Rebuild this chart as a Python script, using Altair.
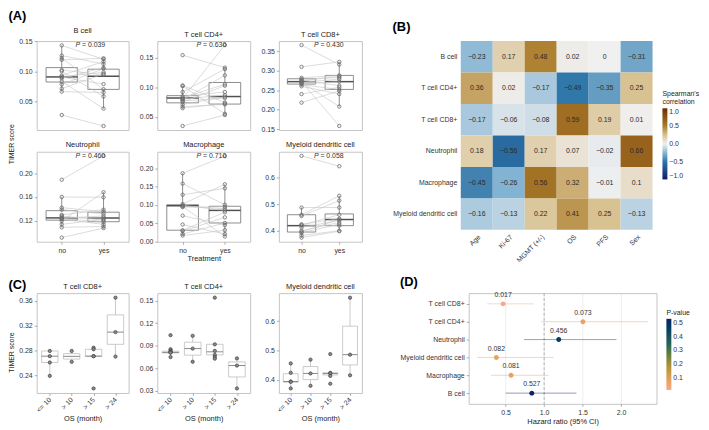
import altair as alt
import pandas as pd

FONT = "Liberation Sans"
TXT = "#333333"
FRAME = "#c4c4c4"

# ---------------- Panel A: paired TIMER scores (treatment no / yes) ----------------
a_cells = ["B cell", "T cell CD4+", "T cell CD8+", "Neutrophil", "Macrophage", "Myeloid dendritic cell"]
a_pvals = ["0.039", "0.630", "0.430", "0.460", "0.710", "0.058"]

bcell_no = [0.143, 0.126, 0.122, 0.119, 0.102, 0.100, 0.093, 0.091, 0.090, 0.088, 0.083, 0.078, 0.071, 0.066, 0.027]
bcell_yes = [0.120, 0.112, 0.070, 0.1216, 0.094, 0.058, 0.116, 0.098, 0.0786, 0.106, 0.0377, 0.104, 0.0955, 0.0646, 0.0087]
cd4_no = [0.154, 0.103, 0.102, 0.092, 0.0848, 0.082, 0.0805, 0.080, 0.079, 0.077, 0.075, 0.071, 0.0674, 0.0647, 0.0347]
cd4_yes = [0.133, 0.0742, 0.0552, 0.1306, 0.092, 0.105, 0.171, 0.0868, 0.120, 0.0816, 0.1026, 0.084, 0.071, 0.0725, 0.0532]
cd8_no = [0.366, 0.310, 0.2818, 0.2785, 0.276, 0.274, 0.272, 0.270, 0.2698, 0.2665, 0.264, 0.260, 0.240, 0.218]
cd8_yes = [0.316, 0.3228, 0.288, 0.2825, 0.2616, 0.2857, 0.158, 0.2785, 0.208, 0.272, 0.252, 0.240, 0.2577, 0.248]
neu_no = [0.189, 0.160, 0.142, 0.1386, 0.130, 0.128, 0.1258, 0.1245, 0.1237, 0.1225, 0.1194, 0.114, 0.109, 0.0917]
neu_yes = [0.229, 0.1594, 0.1354, 0.1317, 0.1386, 0.121, 0.1248, 0.128, 0.118, 0.114, 0.168, 0.1225, 0.1104, 0.1077]
mac_no = [0.187, 0.1585, 0.128, 0.1023, 0.099, 0.097, 0.096, 0.0938, 0.0705, 0.0461, 0.0306, 0.028, 0.0202, 0.016]
mac_yes = [0.234, 0.1005, 0.1456, 0.1567, 0.085, 0.0894, 0.0135, 0.095, 0.0446, 0.020, 0.080, 0.066, 0.0505, 0.0306]
mdc_no = [0.681, 0.487, 0.46, 0.455, 0.424, 0.421, 0.419, 0.412, 0.40, 0.395, 0.392, 0.382, 0.374]
mdc_yes = [0.642, 0.487, 0.531, 0.513, 0.445, 0.46, 0.419, 0.439, 0.431, 0.442, 0.425, 0.40, 0.398]

# box statistics [lower whisker, q1, median, q3, upper whisker] for no / yes
bcell_box = [[0.066, 0.082, 0.0905, 0.106, 0.143], [0.0377, 0.0697, 0.0915, 0.1034, 0.1216]]
cd4_box = [[0.0647, 0.0737, 0.082, 0.0858, 0.103], [0.0532, 0.0716, 0.0843, 0.108, 0.133]]
cd8_box = [[0.260, 0.2657, 0.272, 0.2794, 0.2818], [0.208, 0.252, 0.272, 0.288, 0.3228]]
neu_box = [[0.109, 0.121, 0.1248, 0.137, 0.160], [0.1077, 0.1184, 0.1248, 0.1344, 0.168]]
mac_box = [[0.016, 0.0306, 0.098, 0.1005, 0.187], [0.0135, 0.0505, 0.085, 0.0964, 0.1567]]
mdc_box = [[0.374, 0.395, 0.419, 0.46, 0.487], [0.398, 0.419, 0.442, 0.463, 0.531]]

a_groups = ["no", "yes"]

# ---------------- Panel B: Spearman correlation heatmap ----------------
b_rows = ["B cell", "T cell CD4+", "T cell CD8+", "Neutrophil", "Macrophage", "Myeloid dendritic cell"]
b_cols = ["Age", "Ki-67", "MGMT (+/-)", "OS", "PFS", "Sex"]
b_bcell = [-0.23, 0.17, 0.48, 0.02, 0, -0.31]
b_cd4 = [0.36, 0.02, -0.17, -0.49, -0.35, 0.25]
b_cd8 = [-0.17, -0.06, -0.08, 0.59, 0.19, 0.01]
b_neu = [0.18, -0.56, 0.17, 0.07, -0.02, 0.66]
b_mac = [-0.45, -0.26, 0.56, 0.32, -0.01, 0.1]
b_mdc = [-0.16, -0.13, 0.22, 0.41, 0.25, -0.13]

# ---------------- Panel C: TIMER score by OS group ----------------
c_groups = ["<= 10", "> 10", "> 15", "> 24"]
c_cd8_pts = [[0.279, 0.2706, 0.2604, 0.2388], [0.279, 0.2615], [0.2842, 0.2817, 0.2706, 0.2706, 0.2185], [0.365, 0.3094, 0.270]]
c_cd8_box = [[0.2388, 0.2604, 0.2706, 0.2790, 0.2797], [0.2615, 0.2659, 0.2703, 0.2747, 0.279],
             [0.2706, 0.2706, 0.2706, 0.2817, 0.2842], [0.270, 0.2897, 0.3094, 0.3372, 0.365]]
c_cd4_pts = [[0.1041, 0.0854, 0.0833, 0.082, 0.0812, 0.081, 0.075], [0.1033, 0.0863, 0.0688],
             [0.154, 0.092, 0.0833, 0.0779, 0.075, 0.0729], [0.0733, 0.0638, 0.0333]]
c_cd4_box = [[0.075, 0.0806, 0.0812, 0.0828, 0.0854], [0.0688, 0.0776, 0.0863, 0.0948, 0.1033],
             [0.0729, 0.0779, 0.082, 0.092, 0.092], [0.0333, 0.0486, 0.0638, 0.0686, 0.0733]]
c_mdc_pts = [[0.4562, 0.4243, 0.3946, 0.3935, 0.371], [0.469, 0.422, 0.380],
             [0.488, 0.424, 0.422, 0.4137, 0.387], [0.680, 0.486, 0.4157]]
c_mdc_box = [[0.371, 0.3923, 0.3946, 0.421, 0.4562], [0.380, 0.401, 0.422, 0.4455, 0.469],
             [0.4137, 0.417, 0.422, 0.424, 0.424], [0.4157, 0.451, 0.486, 0.583, 0.680]]

# ---------------- Panel D: hazard ratios ----------------
d_cells = ["T cell CD8+", "T cell CD4+", "Neutrophil", "Myeloid dendritic cell", "Macrophage", "B cell"]
d_hr = [0.467, 1.504, 1.19, 0.38, 0.57, 0.84]
d_lo = [0.26, 0.96, 0.74, 0.13, 0.31, 0.50]
d_hi = [0.87, 2.35, 1.94, 1.12, 1.06, 1.42]
d_p = [0.017, 0.073, 0.456, 0.082, 0.081, 0.527]

YEXT = 20  # fixed y-axis extent (ticks + labels) of the small multiples


def sub_title(t):
    return alt.TitleParams(t, font=FONT, fontSize=7.5, fontWeight="normal", color="#222", offset=3)


def tag_title(t, **kw):
    return alt.TitleParams(t, font=FONT, fontSize=13, fontWeight="bold", color="#000",
                           anchor="start", frame="bounds", **kw)


def left_title(t):
    return alt.TitleParams(t, font=FONT, fontSize=7, fontWeight="normal", color="#222",
                           orient="left", anchor="middle", frame="bounds", offset=1)


def box_frame(box, positions):
    return pd.DataFrame({
        "x": positions,
        "lo": [b[0] for b in box], "q1": [b[1] for b in box], "med": [b[2] for b in box],
        "q3": [b[3] for b in box], "hi": [b[4] for b in box],
    })


def y_axis(ticks, fmt):
    return alt.Axis(values=ticks, format=fmt, labelFlush=False, labelOverlap=False, title=None,
                    minExtent=YEXT, maxExtent=YEXT)


def a_panel(name, no, yes, box, p, domain, ticks, fmt, w, h, show_x, xtitle=None):
    n = len(no)
    pts = pd.DataFrame({"pair": list(range(n)) * 2, "x": [1] * n + [2] * n, "v": list(no) + list(yes)})
    st = box_frame(box, [1, 2])
    xs = alt.Scale(domain=[0.4, 2.6], nice=False, zero=False)
    ys = alt.Scale(domain=domain, nice=False, zero=False)
    lab = "datum.value == 1 ? '%s' : '%s'" % (a_groups[0], a_groups[1])
    xax = alt.Axis(values=[1, 2], labelExpr=lab, labels=show_x, ticks=show_x, title=xtitle,
                   labelFlush=False, labelOverlap=False, labelPadding=2, titlePadding=1)
    yax = y_axis(ticks, fmt)

    def X(f):
        return alt.X(f, scale=xs, axis=xax)

    def Y(f):
        return alt.Y(f, scale=ys, axis=yax)

    sb = alt.Chart(st).transform_calculate(x1="datum.x - 0.375", x2="datum.x + 0.375")
    wl = sb.mark_rule(color="#707070", strokeWidth=0.8).encode(x=X("x:Q"), y=Y("lo:Q"), y2="q1:Q")
    wh = sb.mark_rule(color="#707070", strokeWidth=0.8).encode(x=X("x:Q"), y=Y("q3:Q"), y2="hi:Q")
    bx = sb.mark_rect(fill="white", fillOpacity=0, stroke="#707070", strokeWidth=0.8).encode(
        x=X("x1:Q"), x2="x2:Q", y=Y("q1:Q"), y2="q3:Q")
    md = sb.mark_rule(color="#505050", strokeWidth=1.5).encode(x=X("x1:Q"), x2="x2:Q", y=Y("med:Q"))
    ln = alt.Chart(pts).mark_line(color="#c4c4c4", strokeWidth=0.6).encode(
        x=X("x:Q"), y=Y("v:Q"), detail="pair:N")
    pt = alt.Chart(pts).mark_point(shape="circle", filled=False, size=12, strokeWidth=0.8,
                                   color="#6a6a6a", opacity=1).encode(x=X("x:Q"), y=Y("v:Q"))
    top = max(list(no) + list(yes))
    tdf = pd.DataFrame({"x": [1.33], "y": [top], "t": ["= " + p]})
    tp = alt.Chart(tdf).mark_text(text="P", font=FONT, fontSize=7, fontStyle="italic", align="left",
                                  baseline="middle", color=TXT).encode(x=X("x:Q"), y=Y("y:Q"))
    tv = alt.Chart(tdf).mark_text(font=FONT, fontSize=7, align="left", baseline="middle", dx=6.5,
                                  color=TXT).encode(x=X("x:Q"), y=Y("y:Q"), text="t:N")
    return alt.layer(wl, wh, bx, md, ln, pt, tp, tv).properties(width=w, height=h, title=sub_title(name))


def c_panel(name, pts_groups, box, domain, ticks, fmt, w, h):
    rows = []
    for gi, g in enumerate(pts_groups):
        for v in g:
            rows.append({"x": gi + 1, "v": v})
    pts = pd.DataFrame(rows)
    st = box_frame(box, [1, 2, 3, 4])
    xs = alt.Scale(domain=[0.4, 4.6], nice=False, zero=False)
    ys = alt.Scale(domain=domain, nice=False, zero=False)
    lab = "[" + ",".join("'%s'" % g for g in c_groups) + "][datum.value - 1]"
    xax = alt.Axis(values=[1, 2, 3, 4], labelExpr=lab, title="OS (month)", labelAngle=-45,
                   labelAlign="right", labelBaseline="middle", labelFlush=False, labelOverlap=False,
                   labelPadding=3, titlePadding=2)
    yax = y_axis(ticks, fmt)

    def X(f):
        return alt.X(f, scale=xs, axis=xax)

    def Y(f):
        return alt.Y(f, scale=ys, axis=yax)

    sb = alt.Chart(st).transform_calculate(x1="datum.x - 0.375", x2="datum.x + 0.375")
    wl = sb.mark_rule(color="#bdbdbd", strokeWidth=0.8).encode(x=X("x:Q"), y=Y("lo:Q"), y2="q1:Q")
    wh = sb.mark_rule(color="#bdbdbd", strokeWidth=0.8).encode(x=X("x:Q"), y=Y("q3:Q"), y2="hi:Q")
    bx = sb.mark_rect(fill="white", fillOpacity=0, stroke="#bdbdbd", strokeWidth=0.8).encode(
        x=X("x1:Q"), x2="x2:Q", y=Y("q1:Q"), y2="q3:Q")
    md = sb.mark_rule(color="#8a8a8a", strokeWidth=1).encode(x=X("x1:Q"), x2="x2:Q", y=Y("med:Q"))
    pt = alt.Chart(pts).mark_point(shape="circle", filled=True, size=11, fill="#8c8c8c", stroke="#3c3c3c",
                                   strokeWidth=0.7, opacity=1).encode(x=X("x:Q"), y=Y("v:Q"))
    return alt.layer(wl, wh, bx, md, pt).properties(width=w, height=h, title=sub_title(name))


# ---- A grid ----
A1 = a_panel(a_cells[0], bcell_no, bcell_yes, bcell_box, a_pvals[0], [0.002, 0.1503], [0.05, 0.10, 0.15], ".2f", 93, 90, False)
A2 = a_panel(a_cells[1], cd4_no, cd4_yes, cd4_box, a_pvals[1], [0.0279, 0.1778], [0.05, 0.10, 0.15], ".2f", 94, 90, False)
A3 = a_panel(a_cells[2], cd8_no, cd8_yes, cd8_box, a_pvals[2], [0.1476, 0.3764], [0.15, 0.20, 0.25, 0.30, 0.35], ".2f", 84, 90, False)
A4 = a_panel(a_cells[3], neu_no, neu_yes, neu_box, a_pvals[3], [0.0848, 0.2359], [0.12, 0.16, 0.20], ".2f", 93, 91, True)
A5 = a_panel(a_cells[4], mac_no, mac_yes, mac_box, a_pvals[4], [-0.001, 0.246], [0.0, 0.05, 0.10, 0.15, 0.20], ".2f", 94, 91, True, xtitle="Treatment")
A6 = a_panel(a_cells[5], mdc_no, mdc_yes, mdc_box, a_pvals[5], [0.3586, 0.6964], [0.4, 0.5, 0.6], ".1f", 84, 91, True)

row1 = alt.hconcat(A1, A2, A3, spacing=7)
row2 = alt.hconcat(A4, A5, A6, spacing=7)
a_inner = alt.vconcat(row1, row2, spacing=8).properties(title=left_title("TIMER score"))
agrid = alt.vconcat(a_inner).properties(title=tag_title("(A)", offset=3))

# ---- B heatmap ----
b_all = [b_bcell, b_cd4, b_cd8, b_neu, b_mac, b_mdc]
brows = []
for r, vals in zip(b_rows, b_all):
    for c, v in zip(b_cols, vals):
        brows.append({"row": r, "col": c, "value": v})
bdf = pd.DataFrame(brows)
minus = "\u2212"
bcol = alt.Color("value:Q",
                 scale=alt.Scale(domain=[-1, -0.5, -0.25, 0, 0.25, 0.5, 1],
                                 range=["#0b1c66", "#2b76a8", "#86b6d4", "#f0f0f0", "#d8c291", "#ab7d2a", "#6b2b00"],
                                 interpolate="lab"),
                 legend=alt.Legend(title=["Spearman's", "correlation"], orient="none", legendX=204, legendY=50,
                                   type="gradient", gradientLength=72, gradientThickness=5,
                                   values=[-1, -0.5, 0, 0.5, 1],
                                   labelExpr="replace(format(datum.value, '.1f'), '-', '%s')" % minus,
                                   titleFontSize=7, titleFontWeight="normal", titleFont=FONT, titleColor="#222",
                                   labelFontSize=7, labelFont=FONT, labelColor=TXT, titlePadding=3,
                                   titleLineHeight=8, labelOverlap=False))
bx_enc = alt.X("col:N", sort=b_cols, scale=alt.Scale(paddingInner=0, paddingOuter=0),
               axis=alt.Axis(title=None, labelAngle=-45, ticks=False, labelPadding=3, labelFontSize=7))
by_enc = alt.Y("row:N", sort=b_rows, scale=alt.Scale(paddingInner=0, paddingOuter=0),
               axis=alt.Axis(title=None, ticks=False, labelPadding=4, labelFontSize=7))
brect = alt.Chart(bdf).mark_rect().encode(x=bx_enc, y=by_enc, color=bcol)
btext = alt.Chart(bdf).transform_calculate(
    lab="replace(toString(datum.value), '-', '%s')" % minus
).mark_text(font=FONT, fontSize=7, color="#2a2a2a").encode(
    x=alt.X("col:N", sort=b_cols), y=alt.Y("row:N", sort=b_rows), text="lab:N")
B = alt.layer(brect, btext).properties(width=194, height=191, title=tag_title("(B)", offset=7),
                                       view=alt.ViewBackground(stroke="transparent"))

top = alt.hconcat(agrid, B, spacing=29).resolve_scale(color="independent", stroke="independent")

# ---- C row ----
C1 = c_panel("T cell CD8+", c_cd8_pts, c_cd8_box, [0.2112, 0.3723], [0.24, 0.28, 0.32, 0.36], ".2f", 93, 101)
C2 = c_panel("T cell CD4+", c_cd4_pts, c_cd4_box, [0.0273, 0.160], [0.03, 0.06, 0.09, 0.12, 0.15], ".2f", 94, 101)
C3 = c_panel("Myeloid dendritic cell", c_mdc_pts, c_mdc_box, [0.3555, 0.6955], [0.4, 0.5, 0.6], ".1f", 84, 101)
c_inner = alt.hconcat(C1, C2, C3, spacing=7).properties(title=left_title("TIMER score"))
cgrid = alt.vconcat(c_inner).properties(title=tag_title("(C)", offset=-10))

# ---- D forest plot ----
ddf = pd.DataFrame({"cell": d_cells, "hr": d_hr, "lo": d_lo, "hi": d_hi, "p": d_p})
dxs = alt.Scale(domain=[0.02, 2.46], nice=False, zero=False)
dys = alt.Scale(type="point", padding=0.6)
p_domain = [0.017, 0.1, 0.2, 0.3, 0.4, 0.527]
p_domain_ci = [0.0169, 0.1, 0.2, 0.3, 0.4, 0.5271]
p_range = ["#f7a88a", "#e39f55", "#a8903a", "#4f7345", "#1f4f5f", "#0d2260"]
pleg = alt.Legend(title="P-value", orient="none", legendX=200, legendY=16, type="gradient", gradientLength=72,
                  gradientThickness=5, values=[0.1, 0.2, 0.3, 0.4, 0.5], format=".1f",
                  titleFontSize=7, titleFontWeight="normal", titleFont=FONT, titleColor="#222",
                  labelFontSize=7, labelFont=FONT, labelColor=TXT, titlePadding=3, labelOverlap=False)
dxax = alt.Axis(values=[0.5, 1.0, 1.5, 2.0], format=".1f", grid=True, gridColor="#e6e6e6", gridWidth=0.7,
                title="Hazard ratio (95% CI)", labelFlush=False, labelOverlap=False, labelPadding=2, titlePadding=2)
dyax = alt.Axis(title=None, labelPadding=2, labelOverlap=False)
dvr = alt.Chart(pd.DataFrame({"x": [1.0]})).mark_rule(strokeDash=[3, 2], color="#a0a0a0", strokeWidth=0.8).encode(
    x=alt.X("x:Q", scale=dxs, axis=dxax))
dci = alt.Chart(ddf).mark_rule(strokeWidth=1, opacity=0.45).encode(
    x=alt.X("lo:Q", scale=dxs, axis=dxax), x2="hi:Q",
    y=alt.Y("cell:N", sort=d_cells, scale=dys, axis=dyax),
    stroke=alt.Stroke("p:Q", scale=alt.Scale(domain=p_domain_ci, range=p_range), legend=None))
dpt = alt.Chart(ddf).mark_rect(width=5, height=5, cornerRadius=2.5).encode(
    x=alt.X("hr:Q", scale=dxs, axis=dxax), y=alt.Y("cell:N", sort=d_cells, scale=dys, axis=dyax),
    color=alt.Color("p:Q", scale=alt.Scale(domain=p_domain, range=p_range), legend=pleg))
dtx = alt.Chart(ddf).mark_text(font=FONT, fontSize=7, dy=-9, color=TXT).encode(
    x=alt.X("hr:Q", scale=dxs, axis=dxax), y=alt.Y("cell:N", sort=d_cells, scale=dys, axis=dyax),
    text=alt.Text("p:Q", format=".3f"))
D = alt.layer(dvr, dci, dpt, dtx).properties(width=190, height=112, title=tag_title("(D)", offset=2))

bottom = alt.hconcat(cgrid, D, spacing=37).resolve_scale(color="independent", stroke="independent")

chart = alt.vconcat(top, bottom, spacing=11).resolve_scale(color="independent", stroke="independent").properties(
    padding=0
).configure_axis(
    labelFont=FONT, titleFont=FONT, labelFontSize=7, titleFontSize=7.5, labelColor=TXT, titleColor="#222",
    titleFontWeight="normal", domain=False, tickColor="#8a8a8a", tickSize=2.5, tickWidth=0.7, grid=False,
    labelOverlap=False
).configure_view(stroke=FRAME, strokeWidth=1).configure_text(font=FONT)

chart.save("out.html", embed_options={"renderer": "svg", "actions": False})
